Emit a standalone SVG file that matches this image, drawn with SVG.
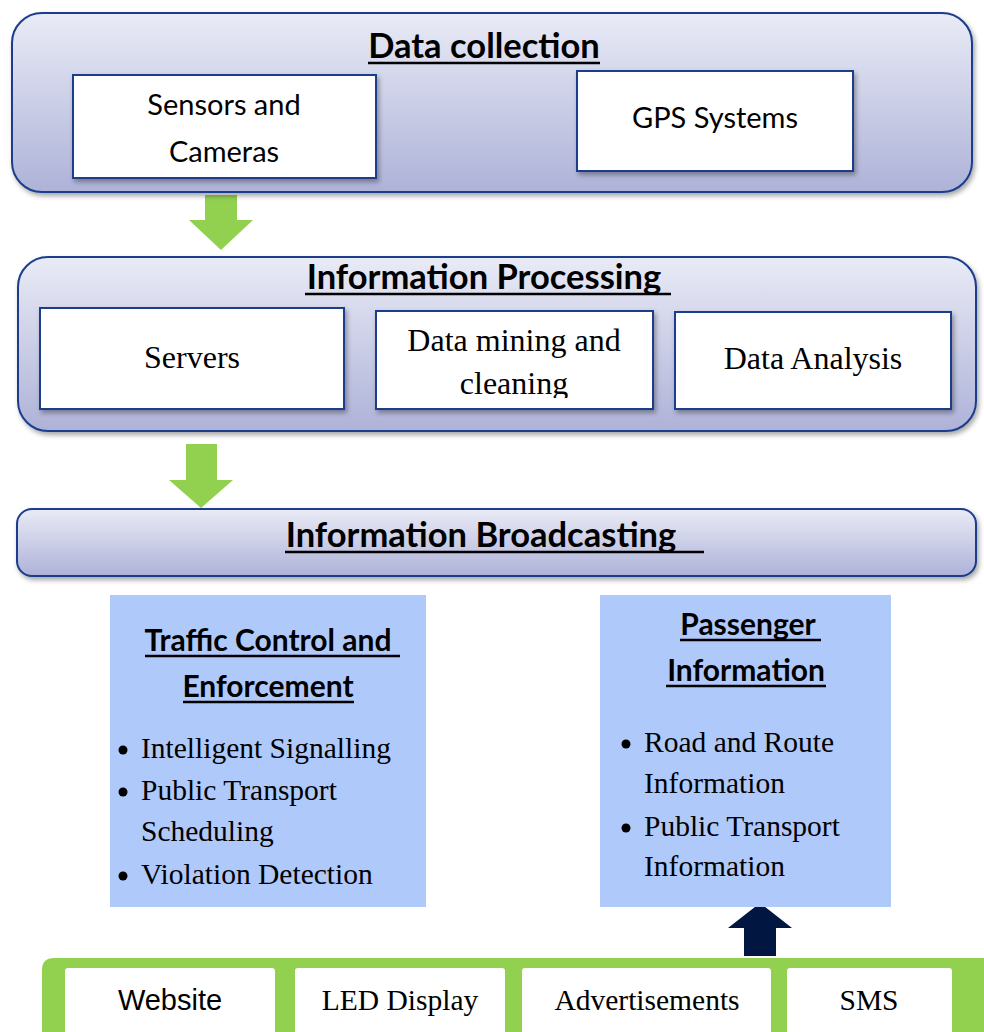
<svg xmlns="http://www.w3.org/2000/svg" width="984" height="1032" viewBox="0 0 984 1032">
<defs>
  <linearGradient id="grad" x1="0" y1="0" x2="0" y2="1">
    <stop offset="0" stop-color="#E9EBF6"/>
    <stop offset="1" stop-color="#AEB2D8"/>
  </linearGradient>
  <filter id="sh" x="-5%" y="-10%" width="110%" height="130%">
    <feDropShadow dx="2" dy="3" stdDeviation="2.5" flood-color="#000" flood-opacity="0.35"/>
  </filter>
  <clipPath id="clipDM"><rect x="376" y="311" width="277" height="87"/></clipPath>
</defs>
<style>
  .cont { fill: url(#grad); stroke: #1A3C8C; stroke-width: 2; }
  .box { fill: #fff; stroke: #1A3C8C; stroke-width: 2; }
  .title { font-family: Lato, "Liberation Sans", sans-serif; font-weight: bold; fill: #000; text-anchor: middle; }
  .cal { font-family: Lato, "Liberation Sans", sans-serif; fill: #000; text-anchor: middle; }
  .tnr { font-family: "Liberation Serif", serif; fill: #000; }
  .ul { stroke: #000; stroke-width: 2.5; }
  .blue { fill: #B0C9FB; }
  .wbox { fill: #fff; }
  .green { fill: #92D050; }
</style>

<g id="connectors">
  <polygon class="green" points="205,195 237,195 237,220 253,220 221,250 189,220 205,220"/>
  <polygon class="green" points="186,444 217,444 217,480 233,480 201,508 169,480 186,480"/>
  <polygon fill="#011640" points="744,956 776,956 776,928 792,928 760,903 728,928 744,928"/>
</g>

<g id="data-collection">
  <rect class="cont" x="12" y="13" width="960" height="179" rx="30" filter="url(#sh)"/>
  <text class="title" x="484" y="58" font-size="34.5">Data collection</text>
  <line class="ul" x1="368" y1="63" x2="600" y2="63"/>
</g>
<g id="sensors">
  <rect class="box" x="73" y="75" width="303" height="103" filter="url(#sh)"/>
  <text class="cal" x="224" y="115" font-size="29">Sensors and</text>
  <text class="cal" x="224" y="162" font-size="29">Cameras</text>
</g>
<g id="gps">
  <rect class="box" x="577" y="71" width="276" height="100" filter="url(#sh)"/>
  <text class="cal" x="715" y="128" font-size="29">GPS Systems</text>
</g>

<g id="information-processing">
  <rect class="cont" x="18" y="257" width="958" height="174" rx="30" filter="url(#sh)"/>
  <text class="title" x="484" y="289" font-size="34.5">Information Processing</text>
  <line class="ul" x1="305" y1="294" x2="671" y2="294"/>
</g>
<g id="servers">
  <rect class="box" x="40" y="308" width="304" height="101" filter="url(#sh)"/>
  <text class="tnr" x="192" y="368" font-size="32" text-anchor="middle">Servers</text>
</g>
<g id="data-mining">
  <rect class="box" x="376" y="311" width="277" height="98" filter="url(#sh)"/>
  <g clip-path="url(#clipDM)">
    <text class="tnr" x="514" y="351" font-size="32" text-anchor="middle">Data mining and</text>
    <text class="tnr" x="514" y="394" font-size="32" text-anchor="middle">cleaning</text>
  </g>
</g>
<g id="data-analysis">
  <rect class="box" x="675" y="312" width="276" height="97" filter="url(#sh)"/>
  <text class="tnr" x="813" y="369" font-size="32" text-anchor="middle">Data Analysis</text>
</g>

<g id="information-broadcasting">
  <rect class="cont" x="17" y="509" width="959" height="67" rx="15" filter="url(#sh)"/>
  <text class="title" x="481" y="547" font-size="34.5">Information Broadcasting</text>
  <line class="ul" x1="285" y1="552" x2="704" y2="552"/>
</g>

<g id="traffic-control">
  <rect class="blue" x="110" y="595" width="316" height="312"/>
  <text class="title" x="268" y="651" font-size="30">Traffic Control and</text>
  <line class="ul" x1="145" y1="656" x2="400" y2="656"/>
  <text class="title" x="268" y="697" font-size="30">Enforcement</text>
  <line class="ul" x1="183" y1="702" x2="354" y2="702"/>
  <g class="tnr" font-size="29.5">
    <circle cx="123" cy="750" r="4.5" fill="#000"/>
    <text x="141" y="758">Intelligent Signalling</text>
    <circle cx="123" cy="792" r="4.5" fill="#000"/>
    <text x="141" y="800">Public Transport</text>
    <text x="141" y="841">Scheduling</text>
    <circle cx="123" cy="876" r="4.5" fill="#000"/>
    <text x="141" y="884">Violation Detection</text>
  </g>
</g>

<g id="passenger-information">
  <rect class="blue" x="600" y="595" width="291" height="312"/>
  <text class="title" x="748" y="635" font-size="30">Passenger</text>
  <line class="ul" x1="680" y1="640" x2="821" y2="640"/>
  <text class="title" x="746" y="681" font-size="30">Information</text>
  <line class="ul" x1="666" y1="686" x2="826" y2="686"/>
  <g class="tnr" font-size="29.5">
    <circle cx="626" cy="744" r="4.5" fill="#000"/>
    <text x="644" y="752">Road and Route</text>
    <text x="644" y="793">Information</text>
    <circle cx="626" cy="828" r="4.5" fill="#000"/>
    <text x="644" y="836">Public Transport</text>
    <text x="644" y="876">Information</text>
  </g>
</g>

<g id="channels">
  <path class="green" d="M42,1032 V970 Q42,958 54,958 H984 V1032 Z"/>
</g>
<g id="website">
  <rect class="wbox" x="65" y="968" width="210" height="66" rx="3"/>
  <text x="170" y="1010" font-family="'Liberation Sans', Arial, sans-serif" font-size="29" text-anchor="middle">Website</text>
</g>
<g id="led-display">
  <rect class="wbox" x="295" y="968" width="210" height="66" rx="3"/>
  <text class="tnr" x="400" y="1010" font-size="29.5" text-anchor="middle">LED Display</text>
</g>
<g id="advertisements">
  <rect class="wbox" x="522" y="968" width="249" height="66" rx="3"/>
  <text class="tnr" x="647" y="1010" font-size="29.5" text-anchor="middle">Advertisements</text>
</g>
<g id="sms">
  <rect class="wbox" x="787" y="968" width="165" height="66" rx="3"/>
  <text class="tnr" x="869" y="1010" font-size="29.5" text-anchor="middle">SMS</text>
</g>
</svg>
